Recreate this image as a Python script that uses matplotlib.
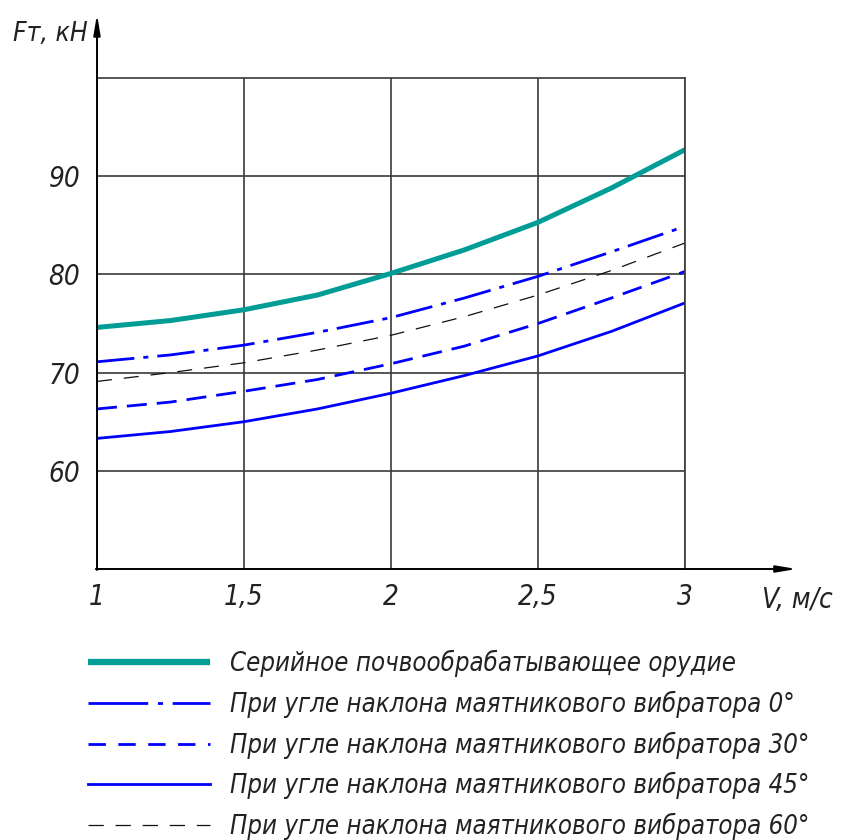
import matplotlib
matplotlib.use("Agg")
import matplotlib.pyplot as plt
from matplotlib import font_manager as fm
import numpy as np

names = {f.name for f in fm.fontManager.ttflist}
cond = any(f.name == 'DejaVu Sans' and 'condensed' in str(f.stretch) for f in fm.fontManager.ttflist)
if 'Liberation Sans Narrow' in names:
    FAM = ['Liberation Sans Narrow', 'DejaVu Sans']
    STRETCH = 'normal'
elif cond:
    FAM = ['DejaVu Sans']
    STRETCH = 'condensed'
else:
    FAM = ['DejaVu Sans']
    STRETCH = 'normal'
plt.rcParams['font.family'] = FAM
plt.rcParams['lines.scale_dashes'] = False

v = [1.0, 1.25, 1.5, 1.75, 2.0, 2.25, 2.5, 2.75, 3.0]
serial = [74.6, 75.3, 76.4, 77.9, 80.1, 82.5, 85.3, 88.8, 92.7]
angle0 = [71.1, 71.8, 72.8, 74.1, 75.6, 77.6, 79.8, 82.3, 84.9]
angle30 = [66.3, 67.0, 68.1, 69.3, 70.9, 72.7, 75.0, 77.6, 80.3]
angle45 = [63.3, 64.0, 65.0, 66.3, 67.9, 69.7, 71.7, 74.2, 77.1]
angle60 = [69.1, 70.0, 71.0, 72.3, 73.8, 75.7, 77.9, 80.4, 83.2]

labels = [
    "Серийное почвообрабатывающее орудие",
    "При угле наклона маятникового вибратора 0°",
    "При угле наклона маятникового вибратора 30°",
    "При угле наклона маятникового вибратора 45°",
    "При угле наклона маятникового вибратора 60°",
]
xticks = [1, 1.5, 2, 2.5, 3]
xticklabels = ["1", "1,5", "2", "2,5", "3"]
yticks = [60, 70, 80, 90]
yticklabels = ["60", "70", "80", "90"]

W, H = 842, 840
fig = plt.figure(figsize=(W / 100, H / 100), dpi=100)
ax = fig.add_axes([97 / W, (H - 569) / H, 588 / W, 491 / H])
ax.set_xlim(1, 3)
ax.set_ylim(50, 100)

gridc = '#3a3a3a'
for s in ['top', 'right']:
    ax.spines[s].set_color(gridc)
    ax.spines[s].set_linewidth(1.2)
for s in ['left', 'bottom']:
    ax.spines[s].set_visible(False)

ax.set_xticks(xticks)
ax.set_xticklabels(xticklabels)
ax.set_yticks(yticks)
ax.set_yticklabels(yticklabels)
ax.tick_params(length=0, labelsize=20, pad=10)
ax.tick_params(axis='y', pad=12)
for t in ax.get_xticklabels() + ax.get_yticklabels():
    t.set_fontstyle('italic')
    t.set_fontstretch(STRETCH)
    t.set_color('#222222')
ax.grid(True, color=gridc, linewidth=1.2)
ax.set_axisbelow(True)

l1, = ax.plot(v, serial, color='#009c96', lw=3.6, solid_capstyle='butt')
l2, = ax.plot(v, angle0, color='#0000ff', lw=2.0, dashes=(27, 6.5, 3.6, 6.5))
l3, = ax.plot(v, angle30, color='#0000ff', lw=2.0, dashes=(14.4, 7.2))
l4, = ax.plot(v, angle45, color='#0000ff', lw=2.0)
l5, = ax.plot(v, angle60, color='#111111', lw=0.9, dashes=(10.8, 8.6))

# axis arrows
ax.annotate('', xy=(0, 1.13), xytext=(0, -0.002), xycoords='axes fraction',
            arrowprops=dict(arrowstyle='-|>,head_length=1.2,head_width=0.2',
                            color='black', lw=1.4, shrinkA=0, shrinkB=0),
            annotation_clip=False)
ax.annotate('', xy=(1.19, 0), xytext=(-0.002, 0), xycoords='axes fraction',
            arrowprops=dict(arrowstyle='-|>,head_length=1.2,head_width=0.2',
                            color='black', lw=1.4, shrinkA=0, shrinkB=0),
            annotation_clip=False)

fig.text(50 / W, 1 - 34 / H, "Fт, кН", fontsize=19, fontstyle='italic',
         fontstretch=STRETCH, ha='center', va='center', color='#222222')
fig.text(797 / W, 1 - 600 / H, "V, м/с", fontsize=20, fontstyle='italic',
         fontstretch=STRETCH, ha='center', va='center', color='#222222')

def make_legend(fs):
    px = fs * 100 / 72
    lg = fig.legend([l1, l2, l3, l4, l5], labels, loc='upper left',
                    bbox_to_anchor=(88 / W, 1 - 650 / H), frameon=False,
                    prop=dict(size=fs, style='italic', stretch=STRETCH),
                    handlelength=122 / px, handletextpad=20 / px,
                    labelspacing=(39 - px) / px,
                    borderaxespad=0, borderpad=0)
    for t in lg.get_texts():
        t.set_color('#222222')
    lns = lg.get_lines()
    lns[0].set_linewidth(4.5)
    lns[1].set_dashes((43, 7, 3.6, 7))
    lns[2].set_dashes((12.5, 9))
    lns[4].set_dashes((11, 8.5))
    return lg

fs = 20
leg = make_legend(fs)
fig.canvas.draw()
r = fig.canvas.get_renderer()
wmax = max(t.get_window_extent(r).width for t in leg.get_texts())
fs = fs * 578 / wmax
leg.remove()
leg = make_legend(fs)

fig.savefig('out.png', dpi=100)
